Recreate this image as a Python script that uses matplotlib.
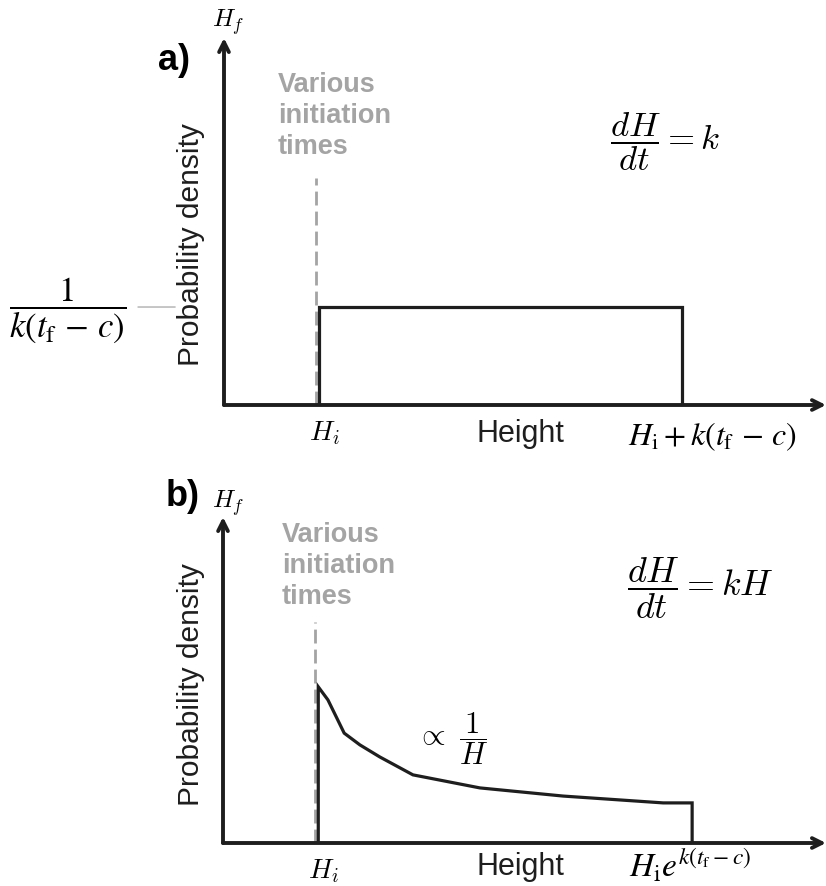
import matplotlib
matplotlib.use("Agg")
import matplotlib.pyplot as plt

plt.rcParams['font.family'] = ['Liberation Sans', 'DejaVu Sans']

#### Data (arbitrary units, axes run 0..10)
Hi = 1.58                      # initiation height
# panel a: uniform density
rect_top = 2.67
rect_right = 7.61
# panel b: density ~ 1/H
curve_x = [1.58, 1.74, 2.01, 2.27, 2.60, 3.15, 4.26, 5.64, 7.30, 7.78]
curve_y = [4.79, 4.39, 3.37, 3.01, 2.64, 2.09, 1.69, 1.44, 1.23, 1.23]
dash_top_a = 6.19
dash_top_b = 6.78

W, H = 826, 886
DARK = '#1e1e1e'
GREY = '#a4a4a4'

fig = plt.figure(figsize=(W/100, H/100), dpi=100)

def FigPx(x, y):
	return x/W, 1 - y/H

def MakeAxes(left, right, bottom, top):
	ax = fig.add_axes([left/W, 1-bottom/H, (right-left)/W, (bottom-top)/H])
	ax.set_xlim(0, 10)
	ax.set_ylim(0, 10)
	ax.axis('off')
	# axes with open arrow heads
	arr = dict(arrowstyle='->,head_length=0.7,head_width=0.35', lw=2.8, color=DARK,
			   shrinkA=0, shrinkB=0)
	ax.annotate('', xy=(10, 0), xytext=(0, 0), arrowprops=arr, annotation_clip=False)
	ax.annotate('', xy=(0, 10), xytext=(0, 0), arrowprops=arr, annotation_clip=False)
	return ax

def CommonLabels(ax, ycen, yheight, dash_top, various_xy):
	ax.plot([Hi-0.05, Hi-0.05], [0, dash_top], color=GREY, lw=2.0, dashes=(5, 2.2), zorder=1)
	fig.text(*FigPx(*various_xy), 'Various\ninitiation\ntimes', color=GREY, fontsize=19.5,
			 fontweight='bold', ha='left', va='top', linespacing=1.25)
	fig.text(*FigPx(191, ycen), 'Probability density', rotation=90, fontsize=21.5,
			 color=DARK, ha='center', va='center')
	ax.annotate('$H_i$', xy=(Hi, 0), xytext=(4, -28*0.72), textcoords='offset points',
				ha='center', va='center', fontsize=20, math_fontfamily='cm',
				annotation_clip=False)
	fig.text(*FigPx(520, yheight), 'Height', ha='center', va='center', fontsize=22, color=DARK)

#### Panel a
axa = MakeAxes(224, 826, 405, 38)
axa.plot([Hi, Hi, rect_right, rect_right], [0, rect_top, rect_top, 0], color=DARK,
		 lw=2.3, solid_joinstyle='miter', zorder=3)
CommonLabels(axa, 245, 434, dash_top_a, (278, 72))
fig.text(*FigPx(174, 60), 'a)', fontsize=26, fontweight='bold', ha='center', va='center')
fig.text(*FigPx(228, 22), '$H_f$', fontsize=18, math_fontfamily='cm', ha='center', va='center')
fig.text(*FigPx(665, 142), r'$\dfrac{dH}{dt} = k$', fontsize=25, math_fontfamily='cm',
		 ha='center', va='center')
axa.annotate(r'$\dfrac{1}{k(t_\mathrm{f}\,-\,c)}$', xy=(-0.259, rect_top),
			 xycoords=('axes fraction', 'data'), xytext=(0, -4), textcoords='offset pixels',
			 fontsize=25, math_fontfamily='stix', ha='center', va='center')
axa.annotate('', xy=(-0.081, rect_top), xytext=(-0.143, rect_top),
			 xycoords=('axes fraction', 'data'),
			 arrowprops=dict(arrowstyle='-', color='#9a9a9a', lw=0.8, shrinkA=0, shrinkB=0))
axa.annotate(r'$H_\mathrm{i}+k(t_\mathrm{f}\,-\,c)$', xy=(rect_right, 0), xytext=(30, -32),
			 textcoords='offset pixels', fontsize=23, math_fontfamily='stix',
			 ha='center', va='center', annotation_clip=False)

#### Panel b
axb = MakeAxes(223, 826, 843, 517)
axb.plot([Hi] + curve_x + [curve_x[-1]], [0] + curve_y + [0], color=DARK, lw=2.3,
		 solid_joinstyle='miter', zorder=3)
CommonLabels(axb, 685, 867, dash_top_b, (282, 522))
fig.text(*FigPx(183, 497), 'b)', fontsize=26, fontweight='bold', ha='center', va='center')
fig.text(*FigPx(228, 503), '$H_f$', fontsize=18, math_fontfamily='cm', ha='center', va='center')
fig.text(*FigPx(700, 588), r'$\dfrac{dH}{dt} = kH$', fontsize=26, math_fontfamily='cm',
		 ha='center', va='center')
fig.text(*FigPx(452, 739), r'$\propto\ \dfrac{1}{H}$', fontsize=22, math_fontfamily='cm',
		 ha='center', va='center')
axb.annotate(r'$H_\mathrm{i}e^{k(t_\mathrm{f}-c)}$', xy=(curve_x[-1], 0), xytext=(-2, -23),
			 textcoords='offset pixels', fontsize=24, math_fontfamily='stix',
			 ha='center', va='center', annotation_clip=False)

fig.savefig('out.png', dpi=100)
